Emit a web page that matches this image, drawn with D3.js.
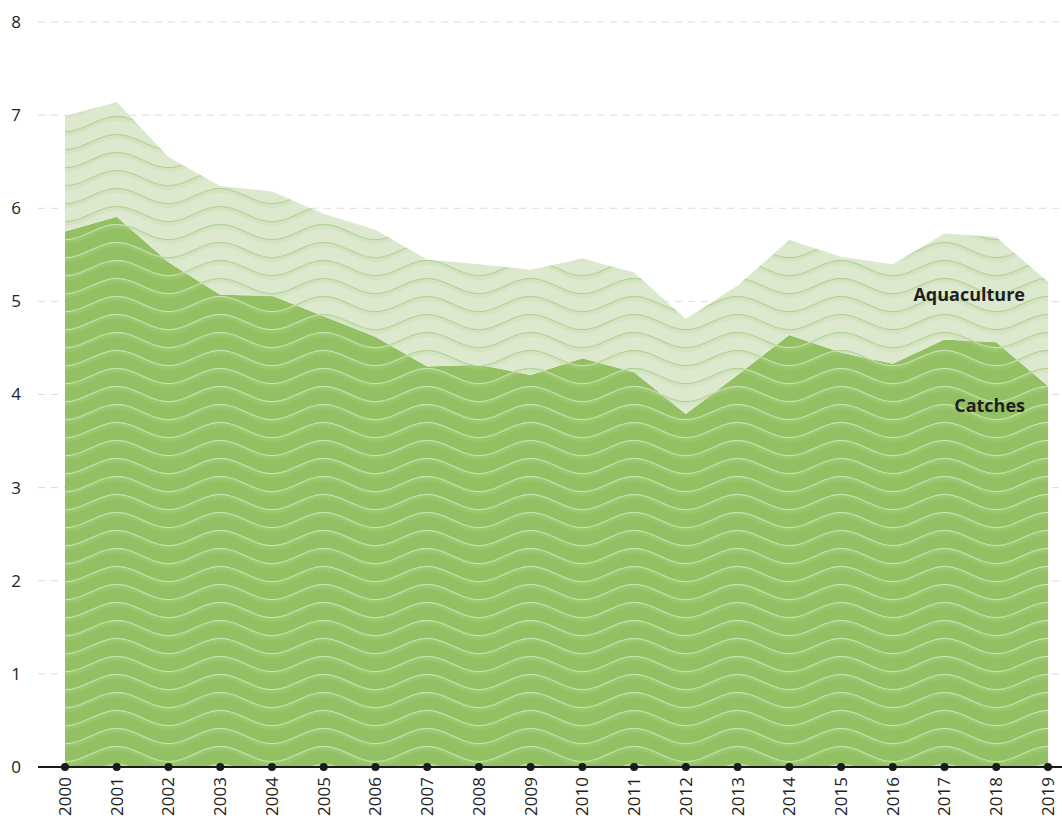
<!DOCTYPE html>
<html lang="en">
<head>
<meta charset="UTF-8">
<title>Catches and aquaculture</title>
<style>
    body { margin: 0; background: #fff; }
    svg { display: block; font-family: "Open Sans", "Noto Sans", sans-serif; }
    .grid line { stroke: #dcdcdc; stroke-dasharray: 7 6; stroke-width: 1; }
    .ylab { font-size: 17px; fill: #222; }
    .xlab { font-size: 17px; fill: #222; }
    .series-label { font-size: 18px; font-weight: bold; fill: #1e1e1e; }
</style>
</head>
<body>
<svg></svg>
<script src="https://d3js.org/d3.v7.min.js"></script>
<script>
    // values
    var years = [2000, 2001, 2002, 2003, 2004, 2005, 2006, 2007, 2008, 2009,
                 2010, 2011, 2012, 2013, 2014, 2015, 2016, 2017, 2018, 2019];
    var catches = [5.75, 5.91, 5.42, 5.07, 5.06, 4.84, 4.62, 4.30, 4.32, 4.21,
                   4.39, 4.24, 3.79, 4.21, 4.64, 4.45, 4.33, 4.59, 4.56, 4.09];
    var aquaculture = [1.24, 1.23, 1.13, 1.17, 1.12, 1.10, 1.15, 1.15, 1.08, 1.13,
                       1.07, 1.07, 1.02, 0.96, 1.02, 1.03, 1.07, 1.14, 1.13, 1.12];
    var yTicks = [0, 1, 2, 3, 4, 5, 6, 7, 8];
    var seriesNames = ["Catches", "Aquaculture"];

    var width = 1062, height = 818;
    var svg = d3.select("svg").attr("width", width).attr("height", height);

    var x = d3.scalePoint().domain(years).range([65, 1048]);
    var y = d3.scaleLinear().domain([0, 8]).range([767, 22]);

    var rows = years.map(function(yr, i) {
        return { year: yr, Catches: catches[i], Aquaculture: aquaculture[i] };
    });
    var stack = d3.stack().keys(seriesNames);
    var layers = stack(rows);

    // wavy patterns
    var defs = svg.append("defs");
    var period = x.step() * 2;
    var rowH = 18;
    var amp = 7.5;

    function wavePts(offY) {
        // lowest at x=0 (even years), highest at period/2 (odd years)
        return d3.range(0, 61).map(function(k) {
            var px = k / 60 * period;
            return [px, offY + amp * Math.cos(2 * Math.PI * px / period)];
        });
    }
    function wavePath(offY) {
        return d3.line()(wavePts(offY));
    }
    function bandPath(offY, thick) {
        var top = wavePts(offY);
        var bot = wavePts(offY + thick).reverse();
        return d3.line()(top.concat(bot)) + "Z";
    }

    function makePattern(id, base, line, glow, glowOp) {
        var p = defs.append("pattern")
            .attr("id", id)
            .attr("patternUnits", "userSpaceOnUse")
            .attr("x", x(2000))
            .attr("y", y(0) - 4)
            .attr("width", period)
            .attr("height", rowH);
        p.append("rect").attr("width", period).attr("height", rowH).attr("fill", base);
        [-rowH, 0, rowH].forEach(function(o) {
            p.append("path").attr("d", bandPath(rowH / 2 + o, 4.5))
                .attr("fill", glow).attr("fill-opacity", glowOp);
            p.append("path").attr("d", bandPath(rowH / 2 + o, 2))
                .attr("fill", glow).attr("fill-opacity", glowOp);
            p.append("path").attr("d", wavePath(rowH / 2 + o))
                .attr("fill", "none").attr("stroke", line)
                .attr("stroke-width", 1.1);
        });
    }
    makePattern("wave-dark", "#92c062", "#c8e1b0", "#b4d693", 0.22);
    makePattern("wave-light", "#dde9cf", "#b3d396", "#c9dfb3", 0.4);

    // gridlines
    svg.append("g").attr("class", "grid")
        .selectAll("line")
        .data(yTicks.filter(function(d) { return d > 0; }))
        .enter().append("line")
        .attr("x1", 38).attr("x2", width)
        .attr("y1", function(d) { return y(d); })
        .attr("y2", function(d) { return y(d); });

    var area = d3.area()
        .x(function(d) { return x(d.data.year); })
        .y0(function(d) { return y(d[0]); })
        .y1(function(d) { return y(d[1]); });

    svg.append("g").selectAll("path")
        .data(layers)
        .enter().append("path")
        .attr("d", area)
        .attr("fill", function(d) { return d.key == "Catches" ? "url(#wave-dark)" : "url(#wave-light)"; });

    // y labels
    svg.append("g").selectAll("text")
        .data(yTicks)
        .enter().append("text")
        .attr("class", "ylab")
        .attr("x", 16)
        .attr("y", function(d) { return y(d); })
        .attr("dy", "0.35em")
        .attr("text-anchor", "middle")
        .text(function(d) { return d; });

    // x axis
    svg.append("line")
        .attr("x1", 38).attr("x2", width)
        .attr("y1", y(0)).attr("y2", y(0))
        .attr("stroke", "#1a1a1a").attr("stroke-width", 2);

    svg.append("g").selectAll("circle")
        .data(years)
        .enter().append("circle")
        .attr("cx", function(d) { return x(d); })
        .attr("cy", y(0))
        .attr("r", 4)
        .attr("fill", "#1a1a1a");

    svg.append("g").selectAll("text")
        .data(years)
        .enter().append("text")
        .attr("class", "xlab")
        .attr("transform", function(d) { return "translate(" + x(d) + "," + (y(0) + 10) + ") rotate(-90)"; })
        .attr("dy", "0.35em")
        .attr("text-anchor", "end")
        .text(function(d) { return d; });

    // series labels
    svg.append("text").attr("class", "series-label")
        .attr("x", 1025).attr("y", 301).attr("text-anchor", "end")
        .text("Aquaculture");
    svg.append("text").attr("class", "series-label")
        .attr("x", 1025).attr("y", 412).attr("text-anchor", "end")
        .text("Catches");
</script>
</body>
</html>
